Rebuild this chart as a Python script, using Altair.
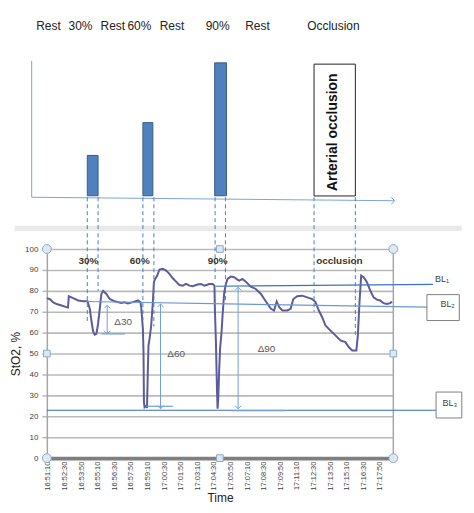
import altair as alt
import pandas as pd

# ---------------- data ----------------
# StO2 trace: seconds after 16:51:10 and StO2 (%)
t_sec = [-5, 10, 26, 42, 66, 90, 97, 101, 122, 146,
         170, 191, 202, 210, 218, 226, 234, 242, 250, 258,
         266, 282, 298, 322, 354, 370, 386, 410, 434, 446,
         450, 458, 461, 463, 466, 474, 478, 482, 485, 490,
         498, 506, 511, 517, 527, 538, 554, 570, 586, 602,
         618, 634, 650, 666, 683, 698, 722, 738, 754, 778,
         794, 803, 805, 810, 815, 818, 821, 826, 830, 837,
         842, 850, 858, 866, 882, 898, 914, 922, 938, 954,
         978, 1002, 1027, 1043, 1059, 1075, 1090, 1103, 1115, 1131,
         1154, 1170, 1183, 1202, 1226, 1250, 1274, 1290, 1306, 1322,
         1338, 1362, 1386, 1410, 1434, 1450, 1467, 1487, 1494, 1502,
         1510, 1522, 1538, 1554, 1570, 1586, 1602, 1618, 1634, 1650,
         1658]
sto2 = [76.5, 76, 74.5, 73.7, 73, 72.2, 72, 77.4, 76.5, 75.4,
        75, 75, 71.4, 65.8, 60.6, 59, 59.4, 64.2, 71.4, 78.5,
        80, 78.5, 76.1, 75, 74.2, 74.5, 74, 74.6, 75.4, 74.6,
        72.2, 61.8, 50.7, 26.8, 24.4, 25.2, 24, 42.7, 53.9, 57,
        63.4, 74.6, 84.1, 85.7, 87.3, 90.2, 90.5, 89.7, 88.1, 86,
        84.4, 82.8, 82.5, 83.3, 82.5, 82.2, 83, 83.3, 82.5, 83.3,
        83.3, 82.5, 71.4, 55.5, 33.2, 23.6, 28.4, 42.7, 52.3, 60.2,
        68.2, 79.3, 83.3, 85.7, 86.8, 86.5, 85.4, 84.9, 85.7, 84.4,
        82, 80.9, 78.5, 76.1, 73.7, 71.4, 70.6, 74.9, 72.2, 70.6,
        70.6, 71.4, 76.1, 77.4, 77.7, 76.9, 76.1, 74.6, 70.6, 67.4,
        63.4, 61, 58.7, 56.3, 55.5, 53.1, 51.5, 51.5, 58.7, 74.6,
        87.3, 86.5, 84.1, 80.1, 76.9, 75.8, 75.4, 74.1, 73.7, 74.1,
        74.9]

tick_labels = ["16:51:10", "16:52:30", "16:53:50", "16:55:10", "16:56:30",
               "16:57:50", "16:59:10", "17:00:30", "17:01:50", "17:03:10",
               "17:04:30", "17:05:50", "17:07:10", "17:08:30", "17:09:50",
               "17:11:10", "17:12:30", "17:13:50", "17:15:10", "17:16:30",
               "17:17:50"]
tick_secs = [80 * i for i in range(len(tick_labels))]
y_ticks = list(range(0, 101, 10))

# protocol schematic (top panel)
phase_names = ["Rest", "30%", "Rest", "60%", "Rest", "90%", "Rest", "Occlusion"]
phase_t = [3, 157, 313, 441, 598, 818, 1010, 1376]
bar_start = [190, 458, 804]
bar_end = [242, 506, 861]
bar_level = [42, 75, 135]
occl_start, occl_end, occl_top = 1283, 1482, 133.7

# dashed phase markers, and where they end in the StO2 panel
mark_t = [190, 242, 458, 511, 806, 856, 1283, 1482]
mark_end = [64.5, 80, 66, 63, 84, 74, 70, 59]

# labels inside the StO2 panel
ex_names = ["30%", "60%", "90%", "occlusion"]
ex_t = [195, 443, 818, 1405]

# baselines BL1..BL3 (segments)
bl_x = [810, 186, -5]
bl_x2 = [1856, 1828, 1871]
bl_y = [82.2, 74.9, 22.9]
bl_y2 = [83.1, 72.2, 22.9]
bl_col = ["#3f72b8", "#6a98d2", "#3a6db5"]

# delta arrows
d_names = ["\u039430", "\u039460", "\u039490"]
d_t = [286, 543, 917]
d_top = [73.1, 73.7, 81.7]
d_bot = [59.4, 23.6, 23.6]
d_lab_t = [363, 618, 1054]
d_lab_y = [65, 50, 52]
d_base_x = [258, 474, 882]
d_base_x2 = [370, 602, 1146]
d_base_y = [59.4, 24.8, 22.7]

X_DOM = [-5, 1665]
W = 348
BLUE_D = "#4a7ebb"
FONT = "Liberation Sans"

xs = alt.Scale(domain=X_DOM, nice=False, zero=False)
TY = alt.Scale(domain=[-34, 184], nice=False, zero=False)
YS = alt.Scale(domain=[0, 100], nice=False, zero=False)

label_expr = "[" + ",".join("'%s'" % s for s in tick_labels) + "][round(datum.value/80)]"
XAX = alt.Axis(values=tick_secs, labelExpr=label_expr, labelAngle=270,
               labelFontSize=7.5, labelColor="#404040", grid=False,
               ticks=False, domainColor="#7f7f7f", domainWidth=4,
               labelPadding=3, titleFontSize=12, titleFontWeight="normal",
               titleColor="#222222", titlePadding=2, labelFont=FONT, titleFont=FONT)
YAX = alt.Axis(values=y_ticks, gridColor="#bababa", gridWidth=1.6,
               domainColor="#a6a6a6", domainWidth=1.5, tickColor="#bababa",
               tickSize=5, tickWidth=1.5, labelFontSize=8, labelColor="#404040",
               labelPadding=4, titleFontSize=12, titleFontWeight="normal",
               titleColor="#222222", titlePadding=2, labelFont=FONT, titleFont=FONT)


def X(f):
    return alt.X(f, type="quantitative", scale=xs, axis=None)


def TYc(f):
    return alt.Y(f, type="quantitative", scale=TY, axis=None)


def XB(f):
    return alt.X(f, type="quantitative", scale=xs, axis=XAX, title="Time")


def YB(f):
    return alt.Y(f, type="quantitative", scale=YS, axis=YAX, title="StO2, %")


# ---------------- top panel ----------------
top_bars = alt.Chart(pd.DataFrame({"a": bar_start, "b": bar_end, "h": bar_level,
                                   "z": [1.5] * 3})).mark_rect(
    fill="#4f81bd", stroke="#385d8a", strokeWidth=1
).encode(x=X("a"), x2="b", y=TYc("h"), y2="z")

occl_box = alt.Chart(pd.DataFrame({"a": [occl_start], "b": [occl_end], "h": [occl_top],
                                   "z": [1.3]})).mark_rect(
    fill="white", stroke="#222222", strokeWidth=1
).encode(x=X("a"), x2="b", y=TYc("h"), y2="z")

occl_text = alt.Chart(pd.DataFrame({"t": [1373], "y": [65.3], "s": ["Arterial occlusion"]})).mark_text(
    angle=270, font=FONT, fontSize=14, fontWeight="bold", color="#111111"
).encode(x=X("t"), y=TYc("y"), text="s:N")

phase_text = alt.Chart(pd.DataFrame({"t": phase_t, "s": phase_names,
                                     "y": [172] * len(phase_t)})).mark_text(
    font=FONT, fontSize=12, color="#222222"
).encode(x=X("t"), y=TYc("y"), text="s:N")

axis_v = alt.Chart(pd.DataFrame({"t": [-78], "y1": [137], "y2": [0]})).mark_rule(
    color="#7da3d6", strokeWidth=1).encode(x=X("t"), y=TYc("y1"), y2="y2")
axis_h = alt.Chart(pd.DataFrame({"a": [-78], "b": [1672], "y1": [0], "y2": [-3.5]})).mark_rule(
    color="#7da3d6", strokeWidth=1).encode(x=X("a"), x2="b", y=TYc("y1"), y2="y2")
arrow_head = alt.Chart(pd.DataFrame({"t": [1672], "y": [-3.5]})).mark_point(
    shape="M-1,-1L0,0L-1,1", size=50, filled=False, color="#7da3d6", strokeWidth=1, opacity=1
).encode(x=X("t"), y=TYc("y"))

top_dash = alt.Chart(pd.DataFrame({"t": mark_t, "y1": [0] * 8, "y2": [-34] * 8})).mark_rule(
    color=BLUE_D, strokeDash=[4, 3], strokeWidth=1
).encode(x=X("t"), y=TYc("y1"), y2="y2")

separator = alt.Chart(pd.DataFrame({"a": [-160], "b": [1995], "y1": [-28.5], "y2": [-34]})).mark_rect(
    fill="#e4e4e4", opacity=0.8
).encode(x=X("a"), x2="b", y=TYc("y1"), y2="y2")

top = alt.layer(separator, axis_v, axis_h, arrow_head, top_dash, top_bars, occl_box,
                occl_text, phase_text).properties(width=W, height=218)

# ---------------- bottom panel ----------------
line = alt.Chart(pd.DataFrame({"t": t_sec, "v": sto2})).mark_line(
    color="#5b5b9e", strokeWidth=2).encode(x=XB("t"), y=YB("v"))

frame_r = alt.Chart(pd.DataFrame({"t": [X_DOM[1]], "y1": [100], "y2": [0]})).mark_rule(
    color="#a6a6a6", strokeWidth=1.5).encode(x=XB("t"), y=YB("y1"), y2="y2")

bot_dash = alt.Chart(pd.DataFrame({"t": mark_t, "y1": [107.5] * 8, "e": mark_end})).mark_rule(
    color=BLUE_D, strokeDash=[4, 3], strokeWidth=1
).encode(x=XB("t"), y=YB("y1"), y2="e")

bl_lines = alt.Chart(pd.DataFrame({"a": bl_x, "b": bl_x2, "y1": bl_y, "y2": bl_y2, "c": bl_col})).mark_rule(
    strokeWidth=1.2
).encode(x=XB("a"), x2="b", y=YB("y1"), y2="y2", color=alt.Color("c:N", scale=None))

ARW = "#6f9fd8"
d_df = pd.DataFrame({"t": d_t, "top": d_top, "bot": d_bot, "s": d_names,
                     "lt": d_lab_t, "ly": d_lab_y, "ba": d_base_x, "bb": d_base_x2, "by": d_base_y})
d_shaft = alt.Chart(d_df).mark_rule(color=ARW, strokeWidth=1).encode(
    x=XB("t"), y=YB("top"), y2="bot")
d_up = alt.Chart(d_df).mark_point(shape="M-1,1L0,0L1,1", size=40, filled=False, color=ARW,
                                  strokeWidth=1, opacity=1).encode(x=XB("t"), y=YB("top"))
d_dn = alt.Chart(d_df).mark_point(shape="M-1,-1L0,0L1,-1", size=40, filled=False, color=ARW,
                                  strokeWidth=1, opacity=1).encode(x=XB("t"), y=YB("bot"))
d_base = alt.Chart(d_df).mark_rule(color=ARW, strokeWidth=1.2).encode(
    x=XB("ba"), x2="bb", y=YB("by"))
d_text = alt.Chart(d_df).mark_text(font=FONT, fontSize=10, color="#595959").encode(
    x=XB("lt"), y=YB("ly"), text="s:N")

ex_text = alt.Chart(pd.DataFrame({"t": ex_t, "s": ex_names, "y": [94.5] * 4})).mark_text(
    font=FONT, fontSize=10, fontWeight="bold", color="#3b3526"
).encode(x=XB("t"), y=YB("y"), text="s:N")

# BL boxes and labels
box_df = pd.DataFrame({"a": [1827, 1871], "b": [1983, 1995], "y1": [78.2, 31.6], "y2": [65.8, 19.2]})
bl_boxes = alt.Chart(box_df).mark_rect(fill="white", stroke="#7f7f7f", strokeWidth=1).encode(
    x=XB("a"), x2="b", y=YB("y1"), y2="y2")
bl_text = alt.Chart(pd.DataFrame({"t": [1866, 1892, 1902], "y": [85.7, 73.7, 26.5],
                                  "s": ["BL\u2081", "BL\u2082", "BL\u2083"]})).mark_text(
    font=FONT, fontSize=9, color="#404040", align="left"
).encode(x=XB("t"), y=YB("y"), text="s:N")

# selection handles of the chart frame
h_circ = alt.Chart(pd.DataFrame({"t": [X_DOM[0], X_DOM[1], X_DOM[0], X_DOM[1]],
                                 "y": [100, 100, 0, 0]})).mark_point(
    shape="circle", size=80, filled=True, fill="#dce9f5", stroke="#8fa9c4", strokeWidth=1, opacity=1
).encode(x=XB("t"), y=YB("y"))
h_sq = alt.Chart(pd.DataFrame({"t": [X_DOM[0], X_DOM[1], 829, 829], "y": [50, 50, 100, 0]})).mark_point(
    shape="square", size=45, filled=True, fill="#dce9f5", stroke="#8fa9c4", strokeWidth=1, opacity=1
).encode(x=XB("t"), y=YB("y"))

bottom = alt.layer(line, frame_r, bl_lines, bot_dash, d_base, d_shaft, d_up, d_dn, d_text,
                   ex_text, bl_boxes, bl_text, h_circ, h_sq).properties(width=W, height=210)

chart = alt.vconcat(top, bottom, spacing=0).resolve_scale(x="shared").properties(
    padding={"top": 5, "left": 1, "right": 3, "bottom": 0}
).configure_view(strokeWidth=0, stroke="transparent")

chart.save("out.html", embed_options={"renderer": "svg", "actions": False})
